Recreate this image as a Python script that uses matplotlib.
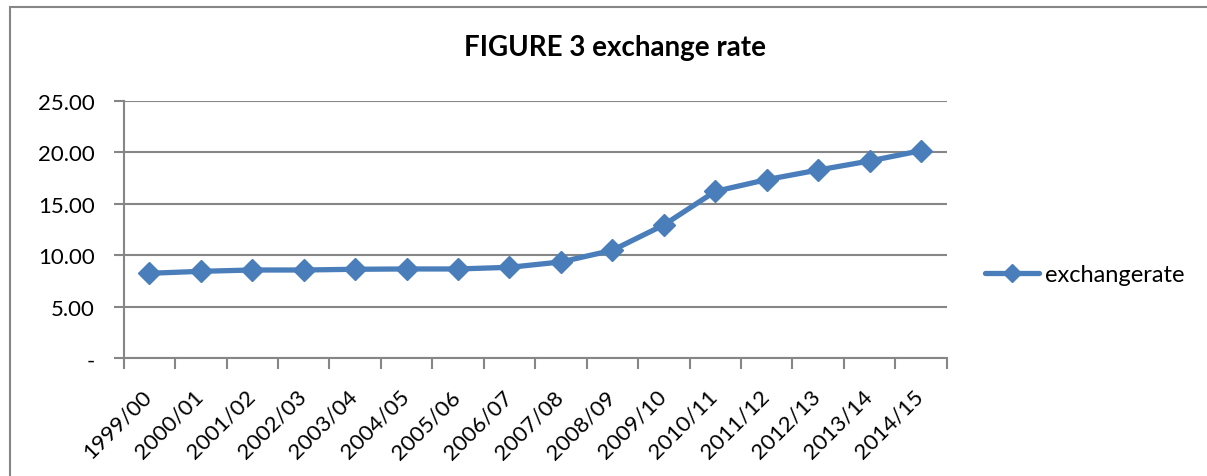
import matplotlib
matplotlib.use("Agg")
import matplotlib.pyplot as plt
from matplotlib.patches import Rectangle

categories = ["1999/00", "2000/01", "2001/02", "2002/03", "2003/04", "2004/05",
              "2005/06", "2006/07", "2007/08", "2008/09", "2009/10", "2010/11",
              "2011/12", "2012/13", "2013/14", "2014/15"]
exchangerate = [8.25, 8.44, 8.57, 8.57, 8.64, 8.67, 8.67, 8.83, 9.35, 10.48,
                12.94, 16.20, 17.34, 18.27, 19.15, 20.15]
yticks = [0, 5, 10, 15, 20, 25]
ytick_labels = ["-", "5.00", "10.00", "15.00", "20.00", "25.00"]

W, H = 1207, 477
fig = plt.figure(figsize=(W / 100, H / 100), dpi=100)
plt.rcParams['font.family'] = ['Lato', 'DejaVu Sans']

grid_c = "#868686"
blue = "#4A7EBB"

# outer chart frame
fig.patches.append(Rectangle((10 / W, -0.05), 1.2, 1 - 8 / H + 0.05,
                             transform=fig.transFigure, fill=False,
                             edgecolor=grid_c, linewidth=1.5))

ax = fig.add_axes([123.7 / W, 1 - 359.3 / H, (946.7 - 123.7) / W, (359.3 - 101.7) / H])
x = list(range(len(categories)))
ax.plot(x, exchangerate, color=blue, linewidth=3.8, marker='D', markersize=11.5,
        label="exchangerate", solid_capstyle='round')
ax.set_xlim(-0.5, len(categories) - 0.5)
ax.set_ylim(0, 25)
ax.set_yticks(yticks)
ax.set_yticklabels(ytick_labels, fontsize=16)
ax.yaxis.grid(True, color=grid_c, linewidth=1.5)
ax.set_axisbelow(True)
for s in ["top", "right"]:
    ax.spines[s].set_visible(False)
for s in ["left", "bottom"]:
    ax.spines[s].set_color(grid_c)
    ax.spines[s].set_linewidth(1.5)
ax.tick_params(axis='y', length=7, width=1.5, color=grid_c, pad=14)
ax.set_xticks([i - 0.5 for i in range(len(categories) + 1)])
ax.set_xticklabels([])
ax.tick_params(axis='x', length=8, width=1.5, color=grid_c)
for i, c in enumerate(categories):
    ax.text(i - 0.15, -2.7, c, rotation=45, ha='right', va='top',
            rotation_mode='anchor', fontsize=16)

fig.text(615 / W, 1 - 48 / H, "FIGURE 3 exchange rate", ha='center', va='center',
         fontsize=20, fontweight='bold')

leg = ax.legend(loc='center left', bbox_to_anchor=(985 / W, 1 - 276 / H),
                bbox_transform=fig.transFigure, frameon=False, fontsize=17,
                borderpad=0, borderaxespad=0, handlelength=2.3, handletextpad=0.25,
                markerscale=0.8)

fig.savefig("out.png", dpi=100)
